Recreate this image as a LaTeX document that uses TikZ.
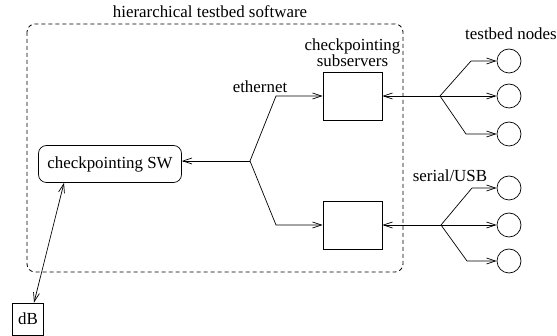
\documentclass[tikz,border=0pt]{standalone}
\usepackage{fontspec}
\setmainfont{Liberation Serif}
\usetikzlibrary{positioning, arrows.meta}

\begin{document}
\begin{tikzpicture}[x=1pt, y=-1pt, line width=0.7pt,
    font=\fontsize{16.9}{19}\selectfont,
    barb/.style={-{Straight Barb[length=9pt,width=6pt]}},
    dbarb/.style={{Straight Barb[length=9pt,width=6pt]}-{Straight Barb[length=9pt,width=6pt]}},
    subbox/.style={draw, minimum width=59pt, minimum height=48pt, inner sep=0pt},
    tnode/.style={draw, circle, minimum size=24pt, inner sep=0pt}]
    \useasboundingbox (0,0) rectangle (557,336);

    % Software frame
    \draw[dash pattern=on 4pt off 3pt, line width=0.8pt, rounded corners=8pt] (27,24) rectangle (403,272);
    \node (title) at (210,12) {hierarchical testbed software};

    % Central checkpointing software and database
    \node[draw, rounded corners=8pt, minimum width=143pt, minimum height=37pt] (sw) at (110,164) {checkpointing SW};
    \node[draw, minimum width=31pt, minimum height=32pt, inner sep=0pt] (db) at (28,319) {dB};
    \coordinate (swb) at ([xshift=-46pt]sw.south);
    \coordinate (dbt) at ([xshift=6pt]db.north);
    \draw[dbarb] (swb) -- (dbt);

    % Subservers
    \node[subbox] (sub1) at (352.5,96) {};
    \node[subbox] (sub2) at (352.5,225) {};
    \node[align=center, above=1pt of sub1] (sublabel) {checkpointing\\[-3pt]subservers};

    % Ethernet fan-out
    \coordinate (eth) at (250,161);
    \coordinate (eth1) at (276,96);
    \coordinate (eth2) at (276,225);
    \node (ethlabel) at (260,87) {ethernet};
    \draw[barb] (eth) -- (sw.east |- eth);
    \draw[barb] (eth) -- (eth1) -- (sub1.west);
    \draw[barb] (eth) -- (eth2) -- (sub2.west);

    % Testbed nodes, level 1
    \coordinate (j1) at (440,96);
    \node[tnode] (n1) at (509,61) {};
    \node[tnode] (n2) at (509,96) {};
    \node[tnode] (n3) at (509,134) {};
    \draw[barb] (j1) -- (sub1.east);
    \draw[barb] (j1) -- (471,61) -- (n1.west);
    \draw[barb] (j1) -- (n2.west);
    \draw[barb] (j1) -- (466,134) -- (n3.west);
    \node (nodelabel) at (511,34) {testbed nodes};

    % Testbed nodes, level 2
    \coordinate (j2) at (441,225);
    \node[tnode] (n4) at (509,188) {};
    \node[tnode] (n5) at (509,225) {};
    \node[tnode] (n6) at (509,261) {};
    \draw[barb] (j2) -- (sub2.east);
    \draw[barb] (j2) -- (472,188) -- (n4.west);
    \draw[barb] (j2) -- (n5.west);
    \draw[barb] (j2) -- (467,261) -- (n6.west);
    \node (seriallabel) at (450,176) {serial/USB};
\end{tikzpicture}
\end{document}
